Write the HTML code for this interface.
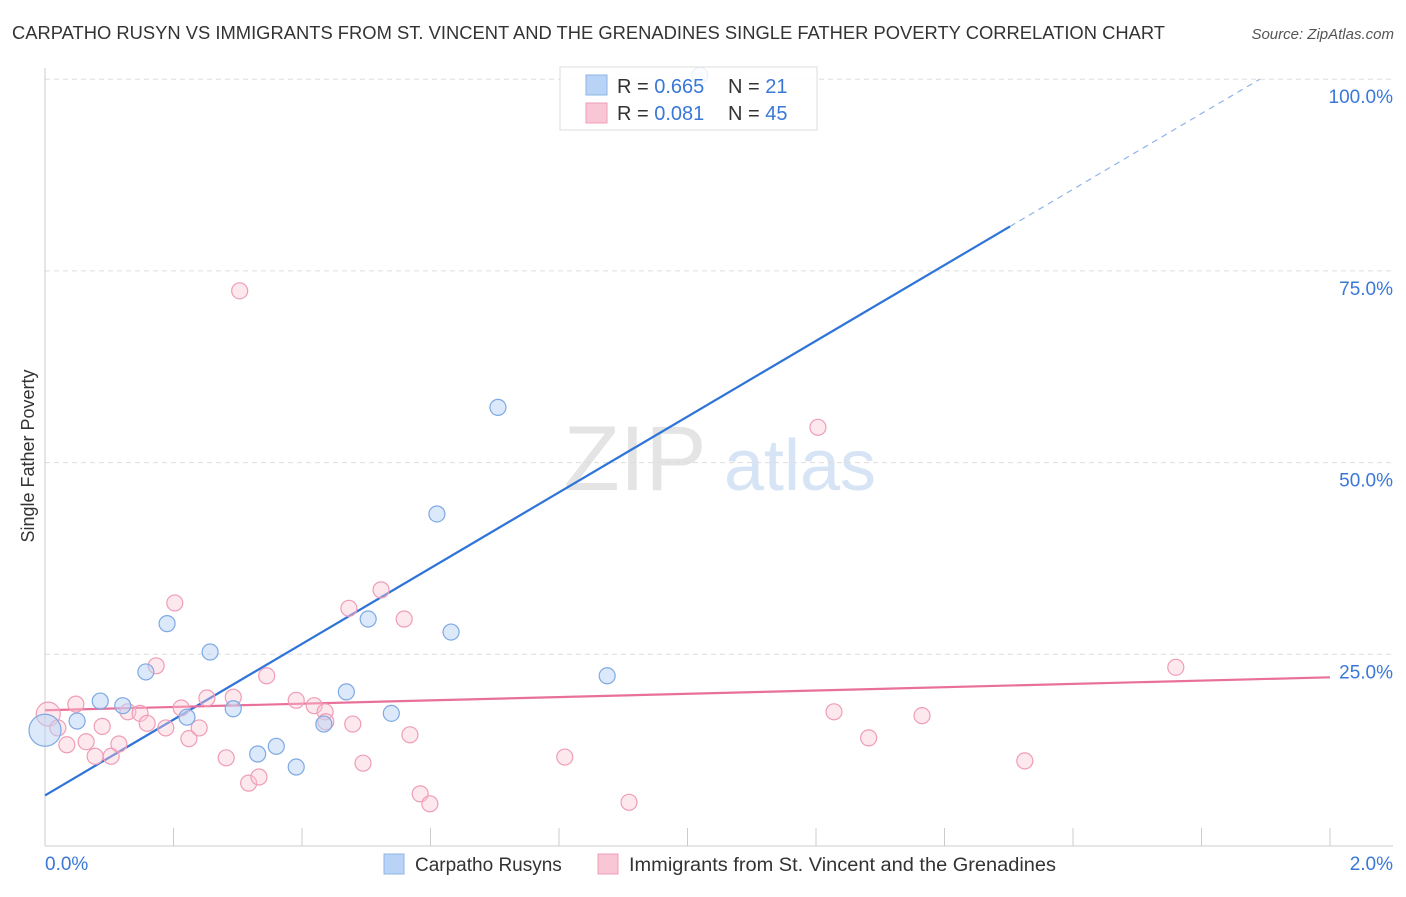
<!DOCTYPE html>
<html><head><meta charset="utf-8"><style>
body{margin:0;background:#fff;font-family:"Liberation Sans",sans-serif;}
svg text{font-family:"Liberation Sans",sans-serif;}
</style></head><body>
<svg id="chart" width="1406" height="892" viewBox="0 0 1406 892" xmlns="http://www.w3.org/2000/svg">
<text x="12" y="39" font-size="18" fill="#333" textLength="1153" lengthAdjust="spacingAndGlyphs">CARPATHO RUSYN VS IMMIGRANTS FROM ST. VINCENT AND THE GRENADINES SINGLE FATHER POVERTY CORRELATION CHART</text>
<text x="1394" y="39" font-size="15" fill="#555" font-style="italic" text-anchor="end">Source: ZipAtlas.com</text>
<g>
<text x="635" y="490" font-size="92" fill="#e4e4e4" text-anchor="middle" font-family="Liberation Serif">ZIP</text>
<text x="800" y="490" font-size="72" fill="#d6e4f5" text-anchor="middle">atlas</text>
</g>
<g id="grid"></g>
<g id="axes"></g>
<g id="lines"></g>
<g id="points"></g>
<text transform="translate(34,456) rotate(-90)" font-size="18" fill="#333" text-anchor="middle">Single Father Poverty</text>
<g>
<rect x="560" y="67" width="257" height="63" fill="#fff" fill-opacity="0.85" stroke="#ddd"/>
<rect x="586" y="75" width="21" height="20" fill="#b8d3f5" stroke="#8fb4e8"/>
<rect x="586" y="103" width="21" height="20" fill="#f9c6d5" stroke="#ef9db6"/>
<text x="617" y="93" font-size="20" fill="#333">R = <tspan fill="#3a78d8">0.665</tspan></text>
<text x="728" y="93" font-size="20" fill="#333">N = <tspan fill="#3a78d8"> 21</tspan></text>
<text x="617" y="120" font-size="20" fill="#333">R = <tspan fill="#3a78d8"> 0.081</tspan></text>
<text x="728" y="120" font-size="20" fill="#333">N = <tspan fill="#3a78d8">45</tspan></text>
</g>
<g>
<rect x="384" y="854" width="20" height="20" fill="#b8d3f5" stroke="#8fb4e8"/>
<text x="415" y="871" font-size="19" fill="#333">Carpatho Rusyns</text>
<rect x="598" y="854" width="20" height="20" fill="#f9c6d5" stroke="#ef9db6"/>
<text x="629" y="871" font-size="19" fill="#333" textLength="427" lengthAdjust="spacingAndGlyphs">Immigrants from St. Vincent and the Grenadines</text>
</g>
</svg>
<script>
const blueX=[0.00,0.05,0.086,0.121,0.157,0.190,0.221,0.257,0.293,0.331,0.360,0.391,0.434,0.469,0.503,0.539,0.610,0.632,0.705,0.875,1.019];
const blueY=[15.1,16.3,18.9,18.3,22.7,29.0,16.8,25.3,17.9,12.0,13.0,10.3,15.9,20.1,29.6,17.3,43.3,27.9,57.2,22.2,100.5];
const pinkX=[0.005,0.020,0.034,0.048,0.064,0.078,0.089,0.103,0.115,0.129,0.148,0.159,0.173,0.188,0.202,0.212,0.224,0.240,0.252,0.282,0.293,0.303,0.317,0.333,0.345,0.391,0.419,0.436,0.437,0.473,0.479,0.495,0.523,0.559,0.568,0.584,0.599,0.809,0.909,1.203,1.228,1.282,1.365,1.525,1.760];
const pinkY=[17.2,15.4,13.2,18.5,13.6,11.7,15.6,11.7,13.3,17.5,17.3,16.0,23.5,15.4,31.7,18.0,14.0,15.4,19.3,11.5,19.4,72.4,8.2,9.0,22.2,19.0,18.3,17.5,16.2,31.0,15.9,10.8,33.4,29.6,14.5,6.8,5.5,11.6,5.7,54.6,17.5,14.1,17.0,11.1,23.3];
const blueTrend=[6.6,105.4];
const pinkTrend=[17.7,22.0];
const yTicks=[25,50,75,100];
const yTickLabels=["25.0%","50.0%","75.0%","100.0%"];
const xTicks=[0,0.2,0.4,0.6,0.8,1.0,1.2,1.4,1.6,1.8,2.0];
const NS="http://www.w3.org/2000/svg";
const X=v=>45+v/2*1285;
const Y=v=>846-v*7.668;
function mk(tag,attrs,parent){const e=document.createElementNS(NS,tag);for(const k in attrs)e.setAttribute(k,attrs[k]);document.getElementById(parent).appendChild(e);return e;}
yTicks.forEach((t,i)=>{
 const l=mk('line',{x1:45,x2:1393,y1:Y(t),y2:Y(t),stroke:'#ddd','stroke-dasharray':'5,4'},'grid');
 
 
 const tx=mk('text',{x:1393,y:Y(t)+24,'font-size':19,fill:'#3a78d8','text-anchor':'end'},'grid');
 tx.textContent=yTickLabels[i];
 
 
});
let a=mk('line',{x1:45,x2:45,y1:68,y2:846,stroke:'#ccc'},'axes');


a=mk('line',{x1:45,x2:1393,y1:846,y2:846,stroke:'#ccc'},'axes');


xTicks.forEach(t=>{
 const l=mk('line',{x1:X(t),x2:X(t),y1:828,y2:846,stroke:'#ccc'},'axes');
 
 
});
let t0=mk('text',{x:45,y:870,'font-size':19,fill:'#3a78d8'},'axes');t0.textContent='0.0%';


let t1=mk('text',{x:1393,y:870,'font-size':19,fill:'#3a78d8','text-anchor':'end'},'axes');t1.textContent='2.0%';


const bAt=x=>blueTrend[0]+(blueTrend[1]-blueTrend[0])*x/2;
const solidEnd=1.502;
let bl=mk('line',{x1:X(0),y1:Y(bAt(0)),x2:X(solidEnd),y2:Y(bAt(solidEnd)),stroke:'#2f74d8','stroke-width':2.2},'lines');


const dashEnd=(100-blueTrend[0])/(blueTrend[1]-blueTrend[0])*2;
let bd=mk('line',{x1:X(solidEnd),y1:Y(bAt(solidEnd)),x2:X(dashEnd),y2:Y(bAt(dashEnd)),stroke:'#8fb4e8','stroke-width':1.2,'stroke-dasharray':'6,5'},'lines');


let pl=mk('line',{x1:X(0),y1:Y(pinkTrend[0]),x2:X(2),y2:Y(pinkTrend[1]),stroke:'#e8709a','stroke-width':2.2},'lines');


pinkX.forEach((x,i)=>{
 const c=mk('circle',{cx:X(x),cy:Y(pinkY[i]),r:i==0?12:8,fill:'#f9c6d5','fill-opacity':0.4,stroke:'#ef9db6','stroke-width':1.2},'points');
 
 
});
blueX.forEach((x,i)=>{
 const c=mk('circle',{cx:X(x),cy:Y(blueY[i]),r:i==0?16:8,fill:'#b8d3f5','fill-opacity':0.5,stroke:'#7fa9e3','stroke-width':1.2},'points');
 
 
});
</script>
</body></html>
